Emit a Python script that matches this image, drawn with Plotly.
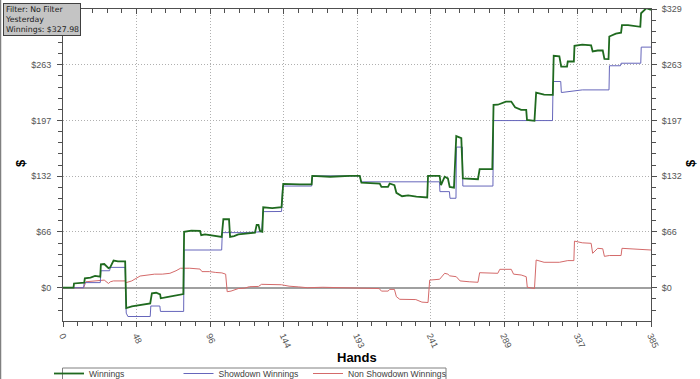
import plotly.graph_objects as go

# ---------------- data ----------------
win_hands = [0, 6.9, 7.2, 13.9, 14.3, 18, 21, 24.4, 24.8, 27, 29.8, 30.9, 33.1, 36, 40.7, 41.4, 45.1, 48, 52, 57.1,
             58.2, 61, 63.6, 64, 68, 72, 78.8, 79.3, 84, 89.7, 90.5, 93, 103.9, 105, 108.7, 109.4, 112, 114.8, 125.7,
             126.8, 128, 129, 130.5, 131.1, 137, 143.1, 144.2, 155, 162.8, 163.2, 175, 187.8, 194.3, 195.4, 207.4,
             208.5, 212.8, 213.9, 217, 218.3, 222, 226, 231.4, 238.5, 239, 246.6, 247.5, 249.9, 252, 253.2, 256,
             257.5, 260.8, 261.8, 271.7, 272.8, 281.1, 281.9, 284.7, 290, 293.5, 296, 300, 303.3, 303.8, 308.7,
             309.8, 315, 320.7, 321.3, 325, 326.2, 330, 330.5, 334.5, 334.9, 340, 345.8, 346.8, 350.1, 353.4, 354.5,
             357.2, 357.7, 362, 365.4, 366, 370, 378, 378.5, 382, 385]
win_vals = [0, 0, 5, 6, 11, 12, 14, 13, 27.6, 28, 23, 24, 32, 31, 31, -24, -22, -21, -20, -18.5,
            -6.6, -6, -8, -12.5, -11, -9.5, -7.5, 66, 67.5, 67, 62, 63, 60, 80.8, 80.8, 60, 61, 63, 65,
            74, 74, 67, 66, 95, 94, 95, 122.5, 122, 122, 132, 131, 132, 132, 124, 123,
            119, 119, 123, 121, 112, 108, 109, 107.5, 106.5, 132, 132, 121, 131, 129, 119, 118,
            179, 176.5, 129, 128, 140, 140, 215.8, 216, 219.7, 219.7, 213, 210, 210, 198, 197,
            230.4, 228, 227.6, 273.7, 273, 261, 261, 267, 267, 285.5, 287, 286, 279, 280, 280, 270,
            269.8, 296.5, 300, 301, 310, 310, 308, 324, 330, 328]

sd_hands = [0, 13.5, 13.9, 24.4, 24.8, 30.5, 31, 40.7, 41.4, 42.5, 57.1, 57.5, 63.4, 63.8, 79, 79.3, 103.9, 104.3,
            118, 130, 131, 143.1, 143.8, 162.8, 163.2, 194.5, 195, 246.5, 246.8, 253, 253.4, 257.3, 257.6, 261.5,
            261.8, 281.5, 281.9, 320.5, 320.9, 325.9, 326.3, 340, 357.5, 357.8, 365, 365.4, 378.3, 378.6, 385]
sd_vals = [0, 0, 6, 6, 20, 20, 24, 24, -30, -34, -34, -21.6, -21.6, -28, -28, 44.5, 44.5, 65,
           65, 66, 89.8, 90, 120, 120, 132, 132, 125, 125, 113.4, 113.4, 105.6, 105.6, 166, 166,
           120, 120, 197.3, 197.3, 243.4, 243.4, 230.4, 233.5, 233.5, 262, 262, 265, 265, 284, 284]

nsd_hands = [0, 13.5, 15, 20, 24.4, 27, 29.8, 31, 33, 40.7, 41.4, 45, 50.5, 55, 60, 65, 70, 74, 77, 83, 89.7, 91,
             96, 100, 104, 106.5, 107.5, 110, 114.8, 119, 122, 128, 130, 143, 148, 154, 160, 170, 180, 187.8, 200,
             207, 208.5, 212.8, 214, 217, 218.3, 220.5, 231, 235, 239, 240.1, 246.6, 249.9, 252, 253.2, 257.5, 260,
             266, 271.7, 272.8, 282.6, 284.7, 286, 293.5, 295, 300, 303.3, 304, 306, 308.7, 309.8, 315, 325, 330.5,
             334.5, 334.9, 340, 345.8, 346.8, 350.1, 353.4, 354.5, 357.7, 365.4, 366, 369.7, 375, 385]
nsd_vals = [0, 0, 7, 8, 8, 9, 5, 7, 8, 8, 6, 8, 13.8, 15, 16, 16, 17, 20, 23, 23, 22, 19,
            19, 18, 17.5, 16, -4.7, -4, -1, -0.5, 1.2, 1.5, 4, 3.5, 1.8, 1, 0, 0.5, 0, -0.7, -0.5,
            -1, -4, -4, -2, -2, -10.6, -13.7, -14, -17, -17.5, 9, 10, 17, 16, 14, 13, 8,
            7, 6.4, 17.7, 17, 17, 21.7, 21.7, 16, 15, 13, 0.5, 0, -1, 32.7, 30, 30, 32,
            32, 55, 53, 52.4, 40.6, 46.5, 46, 37, 38, 38, 46.5, 46, 45, 44.5]

x_tickvals = [0, 48.125, 96.25, 144.375, 192.5, 240.625, 288.75, 336.875, 385]
x_ticktext = ["0", "48", "96", "144", "193", "241", "289", "337", "385"]
y_tickvals = [0, 65.8, 131.6, 197.4, 263.2, 329]
y_ticktext = ["$0", "$66", "$132", "$197", "$263", "$329"]
y_ticktext_left = ["$0", "$66", "$132", "$197", "$263", ""]  # top label hidden under the info box

series_names = ["Winnings", "Showdown Winnings", "Non Showdown Winnings"]
info_lines = ["Filter: No Filter", "Yesterday", "Winnings: $327.98"]

# ---------------- figure ----------------
W, H = 700, 379
ML, MR, MT, MB = 63, 49, 9, 58
PW, PH = W - ML - MR, H - MT - MB


def px_x(px):
    return (px - ML) / PW


def px_y(py):
    return (H - MB - py) / PH


fig = go.Figure()
# invisible spacer entry (last in the reversed legend) so the final legend label is not clipped
fig.add_trace(go.Scatter(x=[None], y=[None], mode="lines", name=" ", hoverinfo="skip",
                         line=dict(color="rgba(0,0,0,0)", width=1)))
fig.add_trace(go.Scatter(x=nsd_hands, y=nsd_vals, mode="lines", name=series_names[2],
                         line=dict(color="#d46a6a", width=1)))
fig.add_trace(go.Scatter(x=sd_hands, y=sd_vals, mode="lines", name=series_names[1],
                         line=dict(color="#6666bb", width=1)))
fig.add_trace(go.Scatter(x=win_hands, y=win_vals, mode="lines", name=series_names[0],
                         line=dict(color="#1f6a1f", width=1.8)))
fig.add_trace(go.Scatter(x=[None], y=[None], xaxis="x2", yaxis="y2", showlegend=False, hoverinfo="skip"))

tickfont = dict(family="Liberation Sans, Arial, sans-serif", size=9, color="#555555")
axcol = "#505050"
gridcol = "#b0b0b0"
xrange_ = [0, 385]
yrange_ = [-39.3, 329]

fig.update_layout(
    width=W, height=H,
    margin=dict(l=ML, r=MR, t=MT, b=MB, autoexpand=False),
    paper_bgcolor="white", plot_bgcolor="white",
    showlegend=True,
    legend=dict(orientation="h", traceorder="reversed", x=px_x(48), y=px_y(358), xanchor="left", yanchor="top",
                bgcolor="rgba(0,0,0,0)", bordercolor="rgba(0,0,0,0)", borderwidth=1,
                font=dict(family="Liberation Sans, Arial, sans-serif", size=8.6, color="#404040"),
                itemwidth=30, entrywidth=84.5, tracegroupgap=0),
    xaxis=dict(range=xrange_, tickmode="array", tickvals=x_tickvals, ticktext=x_ticktext, tickangle=65,
               ticks="outside", ticklen=5, tickcolor=axcol, showline=True, linecolor=axcol, linewidth=1,
               showgrid=True, gridcolor=gridcol, griddash="1px,2px", gridwidth=1, zeroline=False,
               tickfont=tickfont,
               minor=dict(dtick=385 / 40, tick0=0, ticks="outside", ticklen=4, tickcolor=axcol, showgrid=False)),
    xaxis2=dict(range=xrange_, overlaying="x", side="top", anchor="y", showticklabels=False,
                tickmode="array", tickvals=x_tickvals, ticks="inside", ticklen=5, tickcolor=axcol,
                showline=True, linecolor=axcol, linewidth=1, showgrid=False, zeroline=False,
                minor=dict(dtick=385 / 40, tick0=0, ticks="inside", ticklen=4, tickcolor=axcol, showgrid=False)),
    yaxis=dict(range=yrange_, tickmode="array", tickvals=y_tickvals, ticktext=y_ticktext_left,
               ticks="outside", ticklen=5, tickcolor=axcol, showline=True, linecolor=axcol, linewidth=1,
               showgrid=True, gridcolor=gridcol, griddash="1px,2px", gridwidth=1,
               zeroline=True, zerolinecolor="#a0a0a0", zerolinewidth=1.6,
               tickfont=tickfont, ticklabelstandoff=4,
               minor=dict(dtick=329 / 25, tick0=0, ticks="outside", ticklen=4, tickcolor=axcol, showgrid=False)),
    yaxis2=dict(range=yrange_, overlaying="y", side="right", anchor="x", tickmode="array", tickvals=y_tickvals,
                ticktext=y_ticktext, ticks="outside", ticklen=5, tickcolor=axcol, showline=True, linecolor=axcol,
                linewidth=1, showgrid=False, zeroline=False, tickfont=tickfont, ticklabelstandoff=3,
                minor=dict(dtick=329 / 25, tick0=0, ticks="outside", ticklen=4, tickcolor=axcol, showgrid=False)),
)

title_font = dict(family="Liberation Sans, Arial, sans-serif", size=13, color="black")
fig.add_annotation(text="<b>$</b>", xref="paper", yref="paper", x=px_x(20), y=px_y(163), showarrow=False,
                   xanchor="center", yanchor="middle", textangle=-90, font=title_font)
fig.add_annotation(text="<b>$</b>", xref="paper", yref="paper", x=px_x(690), y=px_y(163), showarrow=False,
                   xanchor="center", yanchor="middle", textangle=-90, font=title_font)
fig.add_annotation(text="<b>Hands</b>", xref="paper", yref="paper", x=px_x(357), y=px_y(357), showarrow=False,
                   xanchor="center", yanchor="middle", font=title_font)
fig.add_annotation(text="<br>".join(info_lines), xref="paper", yref="paper", x=px_x(3), y=px_y(3),
                   xanchor="left", yanchor="top", align="left", showarrow=False,
                   bgcolor="#c4c4c4", bordercolor="#404040", borderwidth=1, borderpad=1,
                   font=dict(family="DejaVu Sans, Verdana, sans-serif", size=7.8, color="#202020"))
# window edge on the left and legend frame
fig.add_shape(type="line", xref="paper", yref="paper", x0=px_x(0.5), x1=px_x(0.5), y0=px_y(0), y1=px_y(H),
              line=dict(color="#808080", width=1.5))
fig.add_shape(type="rect", xref="paper", yref="paper", x0=px_x(62.5), x1=px_x(446), y0=px_y(368), y1=px_y(395),
              line=dict(color="#808080", width=1), fillcolor="white", layer="above")

fig.write_html("out.html", post_script="document.body.style.margin='0';",
               config={"displayModeBar": False})
